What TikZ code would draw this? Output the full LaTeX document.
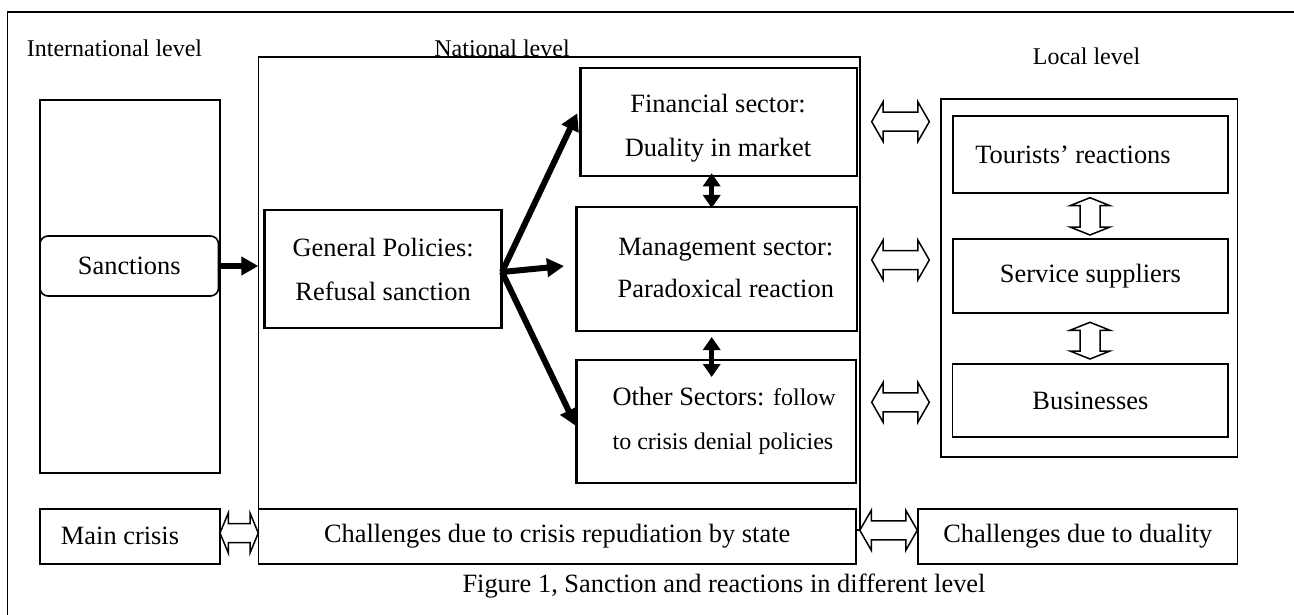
\documentclass[tikz,border=0pt]{standalone}
\usepackage{fontspec}
\setmainfont{Liberation Serif}
\usetikzlibrary{arrows.meta,calc}
\newcommand\hollowH[4]{%
 \draw[hollow] (#1,#3) -- ({#1+#4},{#3-20}) -- ({#1+#4},{#3-9.5}) -- ({#2-#4},{#3-9.5}) -- ({#2-#4},{#3-20}) -- (#2,#3) -- ({#2-#4},{#3+20}) -- ({#2-#4},{#3+9.5}) -- ({#1+#4},{#3+9.5}) -- ({#1+#4},{#3+20}) -- cycle;}
\newcommand\hollowV[4]{%
 \draw[hollow] (#3,#1) -- ({#3-20},{#1+#4}) -- ({#3-10},{#1+#4}) -- ({#3-10},{#2-#4}) -- ({#3-20},{#2-#4}) -- (#3,#2) -- ({#3+20},{#2-#4}) -- ({#3+10},{#2-#4}) -- ({#3+10},{#1+#4}) -- ({#3+20},{#1+#4}) -- cycle;}
\begin{document}
\begin{tikzpicture}[x=1pt,y=-1pt,
  every node/.style={inner sep=0pt, outer sep=0pt},
  box/.style={draw, line width=1.6pt},
  heavybox/.style={draw, line width=2.6pt},
  txt/.style={font=\fontsize{26.4}{44}\selectfont, align=center},
  lvl/.style={font=\fontsize{24}{28}\selectfont, anchor=base},
  fat/.style={line width=6pt, -{Triangle[length=17pt,width=18pt]}},
  dbl/.style={line width=5pt, {Triangle[length=13pt,width=17pt]}-{Triangle[length=13pt,width=17pt]}},
  hollow/.style={draw, line width=1.5pt, line join=miter, fill=white}]
\useasboundingbox (0,0) rectangle (1294,615);
\draw[line width=1.6pt] (1294,12) -- (7.5,12) -- (7.5,615);

% international level
\node[lvl] (intl) at (114.5,57) {International level};
\node[box, minimum width=180pt, minimum height=373pt] (intbox) at (130,286.5) {};
\node[box, rounded corners=8pt, fill=white, minimum width=178.5pt, minimum height=60pt, txt] (sanc) at (129.25,266) {Sanctions};

% national level
\node[box, minimum width=601.7pt, minimum height=473pt] (nat) at (559.15,293.5) {};
\node[lvl] (natl) at (502,57) {National level};
\node[heavybox, minimum width=237.2pt, minimum height=118pt, txt] (gen) at (383.1,269) {General Policies:\\Refusal sanction};
\node[heavybox, minimum width=276.4pt, minimum height=108pt] (fin) at (718.6,122) {};
\node[txt] (fintxt) at (718,128) {Financial sector:\\Duality in market};
\node[heavybox, minimum width=280.5pt, minimum height=124pt] (mgmt) at (716.55,269) {};
\node[txt, font=\fontsize{26.4}{42}\selectfont] (mgmttxt) at (725.8,267.5) {Management sector:\\Paradoxical reaction};
\node[heavybox, minimum width=279.7pt, minimum height=123pt] (oth) at (716.15,421.5) {};
\node[txt, align=left] (othtxt) at (724.2,421) {Other Sectors: {\fontsize{24}{44}\selectfont follow}\\{\fontsize{24}{44}\selectfont to crisis denial policies}};

% local level
\node[lvl] (locl) at (1086.5,65) {Local level};
\node[box, minimum width=296.6pt, minimum height=358pt] (loc) at (1089.3,278) {};
\node[box, minimum width=275.2pt, minimum height=77pt] (tour) at (1090.4,154.5) {};
\node[txt] (tourtxt) at (1073,155) {Tourists’ reactions};
\node[box, minimum width=275.2pt, minimum height=74pt, txt] (serv) at (1090.4,276) {Service suppliers};
\node[box, line width=1.2pt, minimum width=275.2pt, minimum height=73pt, txt] (bus) at (1090.4,400.5) {Businesses};

% bottom row
\node[box, minimum width=180pt, minimum height=55pt] (main) at (130,536.5) {};
\node[txt] (maintxt) at (120,536) {Main crisis};
\node[box, fill=white, minimum width=597.7pt, minimum height=55pt, txt] (chal) at (557.15,536.5) {Challenges due to crisis repudiation by state};
\node[box, minimum width=319.6pt, minimum height=55pt, txt] (dual) at (1077.8,536.5) {Challenges due to duality};
\node[txt] (cap) at (724,586) {Figure 1, Sanction and reactions in different level};

% solid arrows
\draw[fat] (sanc.east) -- (sanc.east -| nat.west);
\coordinate (fan) at (502,272);
\coordinate (tipF) at (577.3,113.3);
\coordinate (tipM) at (564,266);
\coordinate (tipO) at (576,426);
\draw[fat] (fan) -- (tipF);
\draw[fat] (fan) -- (tipM);
\draw[fat] (fan) -- (tipO);
\coordinate (d1a) at (711.7,173.3);
\coordinate (d1b) at (711.7,208);
\coordinate (d2a) at (711.7,337);
\coordinate (d2b) at (711.7,377);
\draw[dbl] (d1a) -- (d1b);
\draw[dbl] (d2a) -- (d2b);

% hollow double arrows
\hollowH{871.7}{929.3}{121.7}{11.5}
\hollowH{871.7}{929.3}{260}{11.5}
\hollowH{871.7}{929.3}{402.3}{11.5}
\hollowH{220}{258.3}{533}{8.3}
\hollowH{859.8}{917.3}{530.3}{11.5}
\hollowV{197.7}{235}{1090}{8}
\hollowV{322.3}{359}{1090}{8}
\end{tikzpicture}
\end{document}
